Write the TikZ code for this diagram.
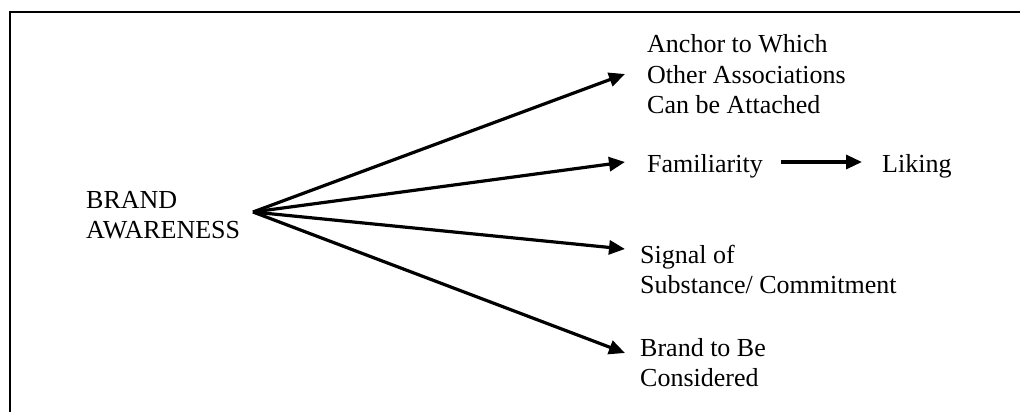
\documentclass[tikz,border=0pt]{standalone}
\usepackage{fontspec}
\setmainfont{Liberation Serif}
\usetikzlibrary{arrows.meta}
\tikzset{
  label text/.style={inner sep=0pt, anchor=base west,
    font=\fontsize{26}{30}\selectfont},
  link/.style={line width=3.2pt, -{Triangle[length=16pt,width=14pt]}},
  frame/.style={line width=2pt}
}
\newcommand{\stack}[1]{\begin{tabular}[t]{@{}l@{}}#1\end{tabular}}
\begin{document}
\begin{tikzpicture}[x=1pt,y=-1pt]
  \useasboundingbox (0,0) rectangle (1020,412);
  % open frame: left and top edges
  \draw[frame] (10,412) -- (10,12) -- (1020,12);

  % texts
  \node[label text] (ba)  at (86,208)  {\stack{BRAND\\AWARENESS}};
  \node[label text] (anc) at (647,53)  {\stack{Anchor to Which\\Other Associations\\Can be Attached}};
  \node[label text] (fam) at (647,172) {Familiarity};
  \node[label text] (lik) at (882,172) {Liking};
  \node[label text] (sig) at (640,263) {\stack{Signal of\\Substance/ Commitment}};
  \node[label text] (btb) at (640,356) {\stack{Brand to Be\\Considered}};

  % common origin of the fan of arrows
  \coordinate (hub) at ([shift={(167,4)}]ba.base west);

  \draw[link] (hub) -- ([shift={(-22,21)}]anc.base west);
  \draw[link] (hub) -- ([shift={(-22,-10)}]fam.base west);
  \draw[link] (hub) -- ([shift={(-15,-14)}]sig.base west);
  \draw[link] (hub) -- ([shift={(-15,-3)}]btb.base west);
  \draw[link] ([shift={(18,-10)}]fam.base east) -- ([shift={(-20,-10)}]lik.base west);
\end{tikzpicture}
\end{document}
